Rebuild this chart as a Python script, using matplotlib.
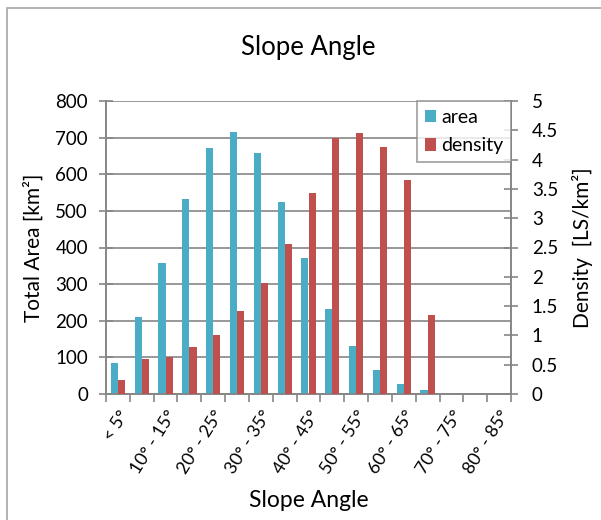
import matplotlib
matplotlib.use("Agg")
import matplotlib.pyplot as plt
from matplotlib.patches import Rectangle
import numpy as np

plt.rcParams["font.family"] = ["Lato", "DejaVu Sans"]

categories = ["< 5°", "5° - 10°", "10° - 15°", "15° - 20°", "20° - 25°", "25° - 30°",
              "30° - 35°", "35° - 40°", "40° - 45°", "45° - 50°", "50° - 55°", "55° - 60°",
              "60° - 65°", "65° - 70°", "70° - 75°", "75° - 80°", "80° - 85°"]
area = [84, 210, 357, 532, 672, 714, 659, 523, 372, 232, 131, 65, 27, 10, 1, 0, 0]
density = [0.24, 0.60, 0.63, 0.80, 1.01, 1.42, 1.90, 2.56, 3.43, 4.37, 4.45, 4.22,
           3.65, 1.35, 0, 0, 0]

BLUE = "#4bacc6"
RED = "#c0504d"
GRID = "#868686"

fig = plt.figure(figsize=(6.01, 5.2), dpi=100)
# chart border
fig.add_artist(Rectangle((7 / 601, -0.1), 1.2, 1 - 8 / 520 + 0.1, transform=fig.transFigure,
                         fill=False, ec="#a6a6a6", lw=1.2))

ax = fig.add_axes([106 / 601, 1 - 394 / 520, 405 / 601, 293 / 520])
ax2 = ax.twinx()

x = np.arange(len(categories))
w = 0.3
ax.bar(x - w / 2, area, w, color=BLUE, label="area", zorder=3)
ax2.bar(x + w / 2, density, w, color=RED, label="density", zorder=3)

ax.set_xlim(-0.5, len(categories) - 0.5)
ax.set_ylim(0, 800)
ax.set_yticks(range(0, 801, 100))
ax2.set_ylim(0, 5)
ax2.set_yticks(np.arange(0, 5.01, 0.5))
ax2.set_yticklabels(["0", "0.5", "1", "1.5", "2", "2.5", "3", "3.5", "4", "4.5", "5"])

ax.yaxis.grid(True, color=GRID, lw=1.2, zorder=0)
ax.set_axisbelow(True)

ax.set_xticks(np.arange(-0.5, len(categories), 1), minor=False)
ax.set_xticklabels([])
ax.set_xticks(x[::2], minor=True)
ax.set_xticklabels(categories[::2], minor=True, rotation=58, ha="right",
                   rotation_mode="anchor", fontsize=12.8)
ax.tick_params(axis="x", which="minor", length=0, pad=10)
ax.tick_params(axis="x", which="major", length=6, direction="out", color=GRID, width=1.2)

for a in (ax, ax2):
    for s in a.spines.values():
        s.set_color(GRID)
        s.set_linewidth(1.2)
    a.tick_params(axis="y", labelsize=13.5, length=10, direction="inout", color=GRID, width=1.2)
ax.spines["top"].set_visible(False)
ax2.spines["top"].set_visible(False)
ax2.tick_params(axis="y", pad=10)
ax.tick_params(axis="y", pad=8)

ax.set_ylabel("Total Area [km²]", fontsize=15, labelpad=8)
ax2.set_ylabel("Density  [LS/km²]", fontsize=15, labelpad=10)
ax.set_xlabel("Slope Angle", fontsize=16.5)
ax.xaxis.set_label_coords(0.5, -(490 - 394) / 293)
fig.text((106 + 511) / 2 / 601, 1 - 48 / 520, "Slope Angle", ha="center",
         va="center", fontsize=18.5)

h1, l1 = ax.get_legend_handles_labels()
h2, l2 = ax2.get_legend_handles_labels()
leg = ax2.legend(h1 + h2, l1 + l2, loc="upper right", fontsize=14, frameon=True,
                 fancybox=False, edgecolor=GRID, handlelength=0.6, handleheight=0.6,
                 handletextpad=0.25, borderpad=0.4, labelspacing=0.6,
                 borderaxespad=0)
leg.get_frame().set_linewidth(1.2)

fig.savefig("out.png", dpi=100)
